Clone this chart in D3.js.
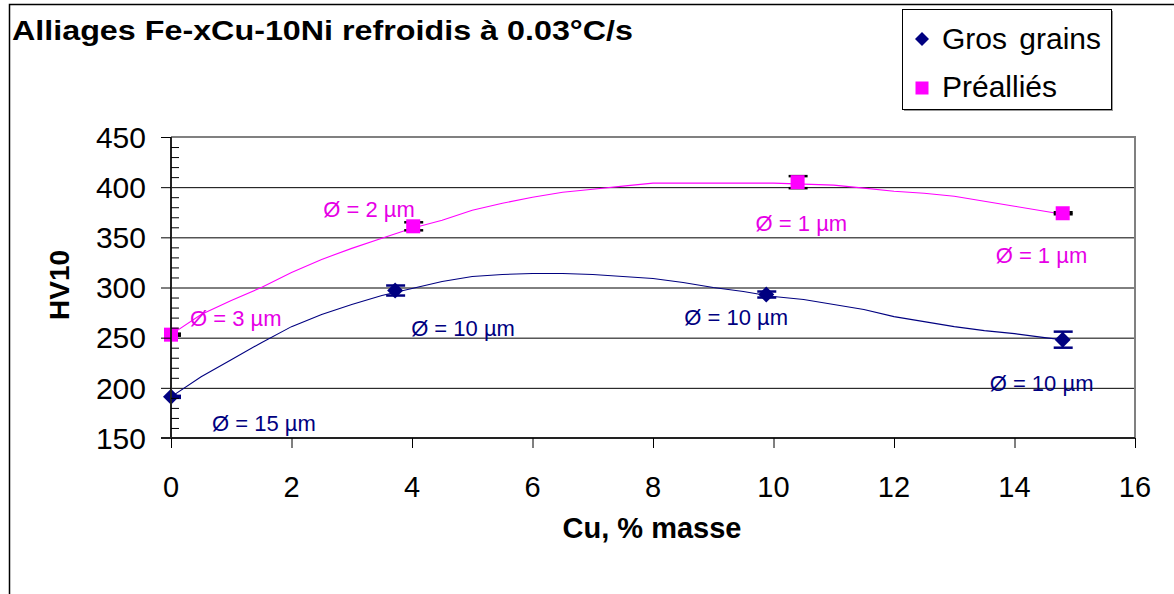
<!DOCTYPE html>
<html><head><meta charset="utf-8">
<script src="https://cdn.jsdelivr.net/npm/d3@7"></script>
<style>body{margin:0;background:#fff}svg{display:block}text{font-family:"Liberation Sans",Arial,sans-serif}</style>
</head><body><svg id="c" width="1174" height="594"></svg>
<script>
// ---- data ----
const title = "Alliages Fe-xCu-10Ni refroidis à 0.03°C/s";
const xTitle = "Cu, % masse";
const yTitle = "HV10";
const seriesNames = ["Gros grains", "Préalliés"];
const xTicks = [0, 2, 4, 6, 8, 10, 12, 14, 16];
const yTicks = [150, 200, 250, 300, 350, 400, 450];

const grosX = [0, 3.72, 9.88, 14.8];
const grosY = [191, 297, 293, 248];
const grosErr = [1, 5, 3, 8];
const grosLabels = ["Ø = 15 µm", "Ø = 10 µm", "Ø = 10 µm", "Ø = 10 µm"];

const preX = [0, 4.02, 10.4, 14.8];
const preY = [253, 361, 405, 374];
const preErr = [1, 4, 6, 1];
const preLabels = ["Ø = 3 µm", "Ø = 2 µm", "Ø = 1 µm", "Ø = 1 µm"];

// trend curves
const grosCurveX = [0, 0.5, 1, 1.5, 2, 2.5, 3, 3.5, 4, 4.5, 5, 5.5, 6, 6.5, 7, 7.5, 8, 8.5, 9, 9.5, 10, 10.5, 11, 11.5, 12, 12.5, 13, 13.5, 14, 14.5, 14.8];
const grosCurveY = [191, 211, 228, 245, 261, 273, 283, 292, 299, 306, 311, 313, 314, 314, 313, 311, 309, 305, 300, 296, 291, 288, 283, 278, 271, 266, 261, 257, 254, 250, 248];
const preCurveX = [0, 0.5, 1, 1.5, 2, 2.5, 3, 3.5, 4, 4.5, 5, 5.5, 6, 6.5, 7, 7.5, 8, 9, 10, 10.5, 11, 11.5, 12, 12.5, 13, 13.5, 14, 14.5, 14.8];
const preCurveY = [253, 273, 287, 300, 315, 328, 339, 349, 359, 367, 377, 384, 390, 395, 398, 401, 404, 404, 404, 403, 402, 399, 396, 394, 391, 386, 381, 376, 373];

// ---- layout ----
const svg = d3.select("#c");
const X0 = 171, X1 = 1135, Y0 = 438, Y1 = 137;
const x = d3.scaleLinear().domain([0, 16]).range([X0, X1]);
const y = d3.scaleLinear().domain([150, 450]).range([Y0, Y1]);
const NAVY = "#000080", MAG = "#FF00FF";

// outer chart border
svg.append("path").attr("d", `M9.5,600 L9.5,4.5 L1180,4.5`).attr("fill", "none").attr("stroke", "#000").attr("stroke-width", 1.5);

// title
svg.append("text").attr("x", 12).attr("y", 40).attr("font-size", 27).attr("font-weight", "bold")
  .attr("textLength", 621).attr("lengthAdjust", "spacingAndGlyphs").text(title);

// gridlines
svg.append("g").selectAll("line").data(yTicks.slice(1, -1)).join("line")
  .attr("x1", X0).attr("x2", X1).attr("y1", d => y(d) + 0.5).attr("y2", d => y(d) + 0.5)
  .attr("stroke", "#000").attr("stroke-width", 1);

// plot border (top/right gray)
svg.append("path").attr("d", `M${X0},${Y1} L${X1},${Y1} L${X1},${Y0}`).attr("fill", "none").attr("stroke", "#808080").attr("stroke-width", 2);

// clip
svg.append("clipPath").attr("id", "pc").append("rect").attr("x", X0).attr("y", Y1).attr("width", X1 - X0).attr("height", Y0 - Y1);

// curves
const line = d3.line().x(d => x(d[0])).y(d => y(d[1]));
svg.append("path").datum(grosCurveX.map((v, i) => [v, grosCurveY[i]])).attr("d", line)
  .attr("fill", "none").attr("stroke", NAVY).attr("stroke-width", 1.1);
svg.append("path").datum(preCurveX.map((v, i) => [v, preCurveY[i]])).attr("d", line)
  .attr("fill", "none").attr("stroke", MAG).attr("stroke-width", 1.1);

// error bars
function errBars(xs, ys, es, col) {
  const g = svg.append("g").attr("clip-path", "url(#pc)");
  xs.forEach((xv, i) => {
    const cx = x(xv), t = y(ys[i] + es[i]), b = y(ys[i] - es[i]);
    g.append("line").attr("x1", cx).attr("x2", cx).attr("y1", t).attr("y2", b).attr("stroke", col).attr("stroke-width", 2);
    [t, b].forEach(yy => g.append("line").attr("x1", cx - 9).attr("x2", cx + 10).attr("y1", yy).attr("y2", yy).attr("stroke", col).attr("stroke-width", 2.5));
  });
}
errBars(grosX, grosY, grosErr, NAVY);
errBars(preX, preY, preErr, "#000");

// markers
function diamondPath(cx, cy, r) { return `M${cx},${cy - r}L${cx + r},${cy}L${cx},${cy + r}L${cx - r},${cy}Z`; }
svg.append("g").selectAll("path").data(grosX.map((v, i) => [v, grosY[i]])).join("path")
  .attr("d", d => diamondPath(x(d[0]), y(d[1]), 8)).attr("fill", NAVY);
svg.append("g").selectAll("rect").data(preX.map((v, i) => [v, preY[i]])).join("rect")
  .attr("x", d => x(d[0]) - 7).attr("y", d => y(d[1]) - 7).attr("width", 14).attr("height", 14).attr("fill", MAG);

// data labels (offsets in px from each point)
const grosOff = [[41, 26], [16, 38], [-82, 23], [-73, 43]];
const preOff = [[19, -17], [-90, -17], [-42, 41], [-67, 42]];
svg.append("g").selectAll("text").data(grosLabels).join("text")
  .attr("x", (d, i) => x(grosX[i]) + grosOff[i][0]).attr("y", (d, i) => y(grosY[i]) + grosOff[i][1])
  .attr("dy", "0.36em").attr("font-size", 22).attr("fill", NAVY).text(d => d);
svg.append("g").selectAll("text").data(preLabels).join("text")
  .attr("x", (d, i) => x(preX[i]) + preOff[i][0]).attr("y", (d, i) => y(preY[i]) + preOff[i][1])
  .attr("dy", "0.36em").attr("font-size", 22).attr("fill", "#E600E6").text(d => d);

// y axis
const ya = svg.append("g");
ya.append("line").attr("x1", X0).attr("x2", X0).attr("y1", Y1).attr("y2", Y0).attr("stroke", "#222").attr("stroke-width", 2);
ya.selectAll("line.maj").data(yTicks).join("line").attr("class", "maj")
  .attr("x1", X0 - 10).attr("x2", X0).attr("y1", d => y(d) + 0.5).attr("y2", d => y(d) + 0.5).attr("stroke", "#000");
const minors = d3.range(150, 451, 10).filter(v => v % 50 !== 0);
ya.selectAll("line.min").data(minors).join("line").attr("class", "min")
  .attr("x1", X0).attr("x2", X0 + 8).attr("y1", d => y(d) + 0.5).attr("y2", d => y(d) + 0.5).attr("stroke", "#000");
ya.selectAll("text").data(yTicks).join("text")
  .attr("x", 146).attr("y", d => y(d)).attr("dy", "0.36em").attr("text-anchor", "end").attr("font-size", 30).text(d => d);

// x axis
const xa = svg.append("g");
xa.append("line").attr("x1", X0 - 10).attr("x2", X1).attr("y1", Y0).attr("y2", Y0).attr("stroke", "#222").attr("stroke-width", 2);
xa.selectAll("line.t").data(xTicks).join("line").attr("class", "t")
  .attr("x1", d => x(d) + 0.5).attr("x2", d => x(d) + 0.5).attr("y1", Y0).attr("y2", Y0 + 10).attr("stroke", "#000");
xa.selectAll("text").data(xTicks).join("text")
  .attr("x", d => x(d)).attr("y", 497).attr("text-anchor", "middle").attr("font-size", 29).text(d => d);

// axis titles
svg.append("text").attr("x", 652).attr("y", 538).attr("text-anchor", "middle").attr("font-size", 29).attr("font-weight", "bold").text(xTitle);
svg.append("text").attr("transform", "translate(69,285) rotate(-90)").attr("text-anchor", "middle").attr("font-size", 28).attr("font-weight", "bold").text(yTitle);

// legend
const lg = svg.append("g");
lg.append("rect").attr("x", 904).attr("y", 11).attr("width", 209).attr("height", 100).attr("fill", "#999");
lg.append("rect").attr("x", 902.5).attr("y", 9.5).attr("width", 209).attr("height", 100).attr("fill", "#fff").attr("stroke", "#000").attr("stroke-width", 1);
lg.append("path").attr("d", diamondPath(922, 39, 7)).attr("fill", NAVY);
lg.append("rect").attr("x", 915.5).attr("y", 81.5).attr("width", 13).attr("height", 13).attr("fill", MAG);
lg.append("text").attr("x", 942).attr("y", 49).attr("font-size", 30).attr("word-spacing", 4).text(seriesNames[0]);
lg.append("text").attr("x", 942).attr("y", 97).attr("font-size", 30).text(seriesNames[1]);
</script></body></html>
